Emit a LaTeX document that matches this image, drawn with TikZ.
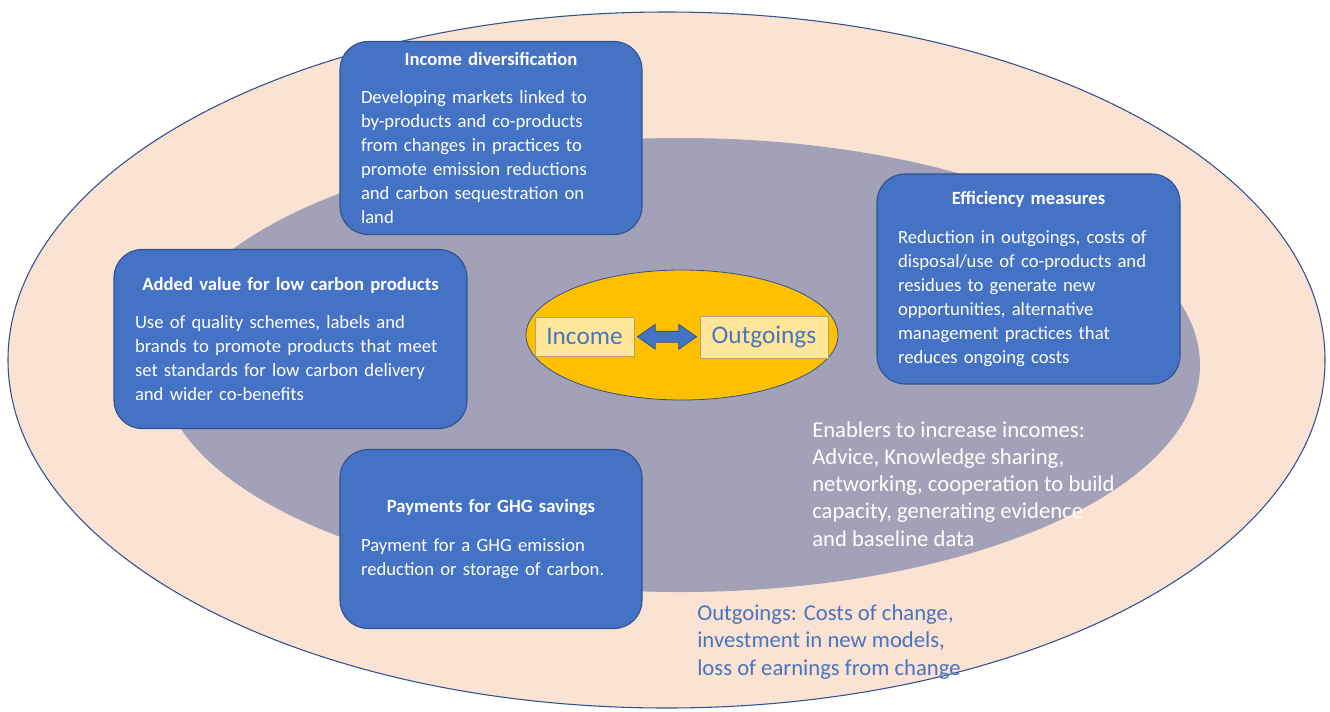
\documentclass[tikz,border=0pt]{standalone}
\usepackage{fontspec}
\setmainfont{Carlito}
\usetikzlibrary{shapes.geometric,shapes.arrows,calc}

\definecolor{peach}{HTML}{FBE3D4}
\definecolor{ringgray}{HTML}{A3A1B7}
\definecolor{cardblue}{HTML}{4472C4}
\definecolor{cardedge}{HTML}{2F528F}
\definecolor{gold}{HTML}{FFC000}
\definecolor{paleyellow}{HTML}{FFE699}
\definecolor{paleedge}{HTML}{B8A27A}
\definecolor{labelblue}{HTML}{4A74C0}

\newcommand\cardtitle[1]{\begingroup\centering\bfseries #1\par\endgroup\vspace{11pt}}

\tikzset{
  card/.style={draw=cardedge, fill=cardblue, line width=0.8pt, rounded corners=21pt,
    text=white, align=left, inner xsep=15.75pt, inner ysep=0pt,
    font=\fontsize{14}{18}\selectfont},
  tag/.style={draw=paleedge, fill=paleyellow, line width=0.6pt, text=labelblue,
    inner sep=0pt, font=\fontsize{19}{22}\selectfont},
  note/.style={align=left, inner sep=0pt, anchor=west, font=\fontsize{17}{20.4}\selectfont},
}

\begin{document}
\begin{tikzpicture}[x=0.75pt,y=-0.75pt]
  \fill[white] (0,0) rectangle (1330,711);
  \useasboundingbox (0,0) rectangle (1330,711);

  % nested rings
  \node[ellipse, draw=cardedge, line width=0.8pt, fill=peach, inner sep=0pt,
        minimum width=987.75pt, minimum height=522pt] (outer) at (666.5,360) {};
  \node[ellipse, fill=ringgray, inner sep=0pt,
        minimum width=780pt, minimum height=340.5pt] (inner) at (680,365) {};

  % centre: income versus outgoings
  \node[ellipse, draw=cardedge, line width=0.6pt, fill=gold, inner sep=0pt,
        minimum width=234pt, minimum height=97.5pt] (core) at (682,335) {};
  \node[tag, minimum width=74.25pt, minimum height=29.25pt] (inc) at (584.5,336.5) {Income};
  \node[tag, minimum width=96pt, minimum height=31.5pt] (out) at (764,337) {Outgoings};
  \node[double arrow, draw=cardedge, fill=cardblue, line width=0.6pt,
        inner xsep=0pt, inner ysep=3.75pt, double arrow head extend=5.25pt,
        double arrow tip angle=70, minimum height=44.25pt]
        (link) at ($(inc.east)!0.5!(out.west)$) {};

  % the four income levers
  \node[card, text width=195pt, minimum height=144.75pt] (div) at (491,138) {%
    \cardtitle{Income diversification}%
    Developing markets linked to\\
    by-products and co-products\\
    from changes in practices to\\
    promote emission reductions\\
    and carbon sequestration on\\
    land};

  \node[card, text width=233.25pt, minimum height=134.25pt] (value) at (290.5,339) {%
    \cardtitle{Added value for low carbon products}%
    Use of quality schemes, labels and\\
    brands to promote products that meet\\
    set standards for low carbon delivery\\
    and wider co-benefits};

  \node[card, text width=195.75pt, minimum height=157.5pt] (eff) at (1028.5,279) {%
    \cardtitle{Efficiency measures}%
    Reduction in outgoings, costs of\\
    disposal/use of co-products and\\
    residues to generate new\\
    opportunities, alternative\\
    management practices that\\
    reduces ongoing costs};

  \node[card, text width=195pt, minimum height=134.25pt] (pay) at (491,539) {%
    \cardtitle{Payments for GHG savings}%
    Payment for a GHG emission\\
    reduction or storage of carbon.};

  % free-standing notes
  \node[note, text=white] (enable) at (812,484) {%
    Enablers to increase incomes:\\
    Advice, Knowledge sharing,\\
    networking, cooperation to build\\
    capacity, generating evidence\\
    and baseline data};

  \node[note, text=labelblue] (costs) at (697,642) {%
    Outgoings: Costs of change,\\
    investment in new models,\\
    loss of earnings from change};
\end{tikzpicture}
\end{document}
